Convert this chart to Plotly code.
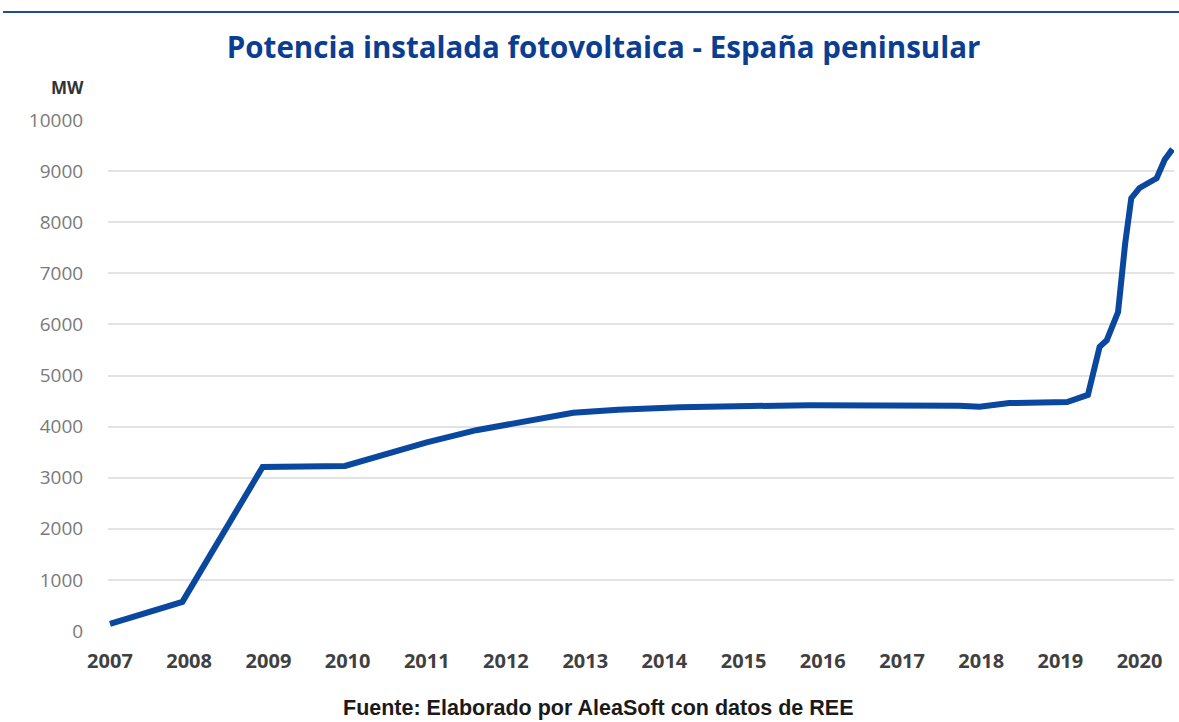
import plotly.graph_objects as go

# Data (MW, installed PV capacity, peninsular Spain)
dates = ["2007-01-01", "2007-12-01", "2008-12-05", "2009-12-20", "2011-01-01",
         "2011-08-17", "2012-11-06", "2013-06-01", "2014-03-15", "2015-11-01",
         "2017-09-20", "2017-12-25", "2018-05-10", "2018-12-15", "2019-02-01",
         "2019-05-08", "2019-07-01", "2019-08-03", "2019-09-24", "2019-10-27",
         "2019-11-24", "2020-01-01", "2020-03-20", "2020-04-26", "2020-06-01"]
capacity_mw = [140, 570, 3210, 3230, 3690,
               3930, 4270, 4330, 4380, 4420,
               4410, 4390, 4460, 4460, 4480,
               4620, 5560, 5690, 6240, 7590,
               8470, 8670, 8860, 9220, 9430]

title_text = "Potencia instalada fotovoltaica - España peninsular"
y_unit = "MW"
source_text = "Fuente: Elaborado por AleaSoft con datos de REE"

fig = go.Figure()
fig.add_trace(go.Scatter(
    x=dates, y=capacity_mw, mode="lines",
    line=dict(color="#0a48a0", width=6),
    cliponaxis=False, hoverinfo="x+y", showlegend=False,
))

fig.update_layout(
    width=1179, height=722,
    margin=dict(l=108, r=5, t=120, b=91),
    paper_bgcolor="white", plot_bgcolor="white",
    title=dict(text=title_text, x=0.512, xref="container", xanchor="center",
               y=1 - 48 / 722, yref="container", yanchor="middle",
               font=dict(family="Open Sans", size=29.5, color="#0b3d91", weight="bold")),
    xaxis=dict(
        type="date", range=["2006-12-23", "2020-06-08"],
        tick0="2007-01-01", dtick="M12", tickformat="%Y",
        showgrid=False, zeroline=False, showline=False,
        ticks="outside", ticklen=12, tickcolor="rgba(0,0,0,0)",
        tickfont=dict(family="Open Sans", size=20, color="#404040", weight="bold"),
    ),
    yaxis=dict(
        range=[0, 10000], dtick=1000, tickformat="d",
        showgrid=True, gridcolor="#e3e3e3", gridwidth=1.5,
        zeroline=False, showline=False,
        ticks="outside", ticklen=20, tickcolor="rgba(0,0,0,0)",
        tickfont=dict(family="Open Sans", size=19, color="#7a7a7a"),
    ),
    annotations=[
        dict(text=y_unit, xref="paper", yref="paper", x=(67 - 108) / 1066,
             y=(631 - 87) / 511, xanchor="center", yanchor="middle", showarrow=False,
             font=dict(family="Open Sans", size=17, color="#333333", weight="bold")),
        dict(text=source_text, xref="paper", yref="paper", x=(598 - 108) / 1066,
             y=(631 - 708) / 511, xanchor="center", yanchor="middle", showarrow=False,
             font=dict(family="Liberation Sans", size=21.5, color="#1a1a1a", weight="bold")),
    ],
    shapes=[
        dict(type="line", xref="paper", yref="paper",
             x0=(3 - 108) / 1066, x1=(1179 - 108) / 1066,
             y0=(631 - 12) / 511, y1=(631 - 12) / 511,
             line=dict(color="#1f4e8c", width=2)),
    ],
)

fig.write_html("out.html", config={"displayModeBar": False},
               post_script="document.body.style.margin='0';")
